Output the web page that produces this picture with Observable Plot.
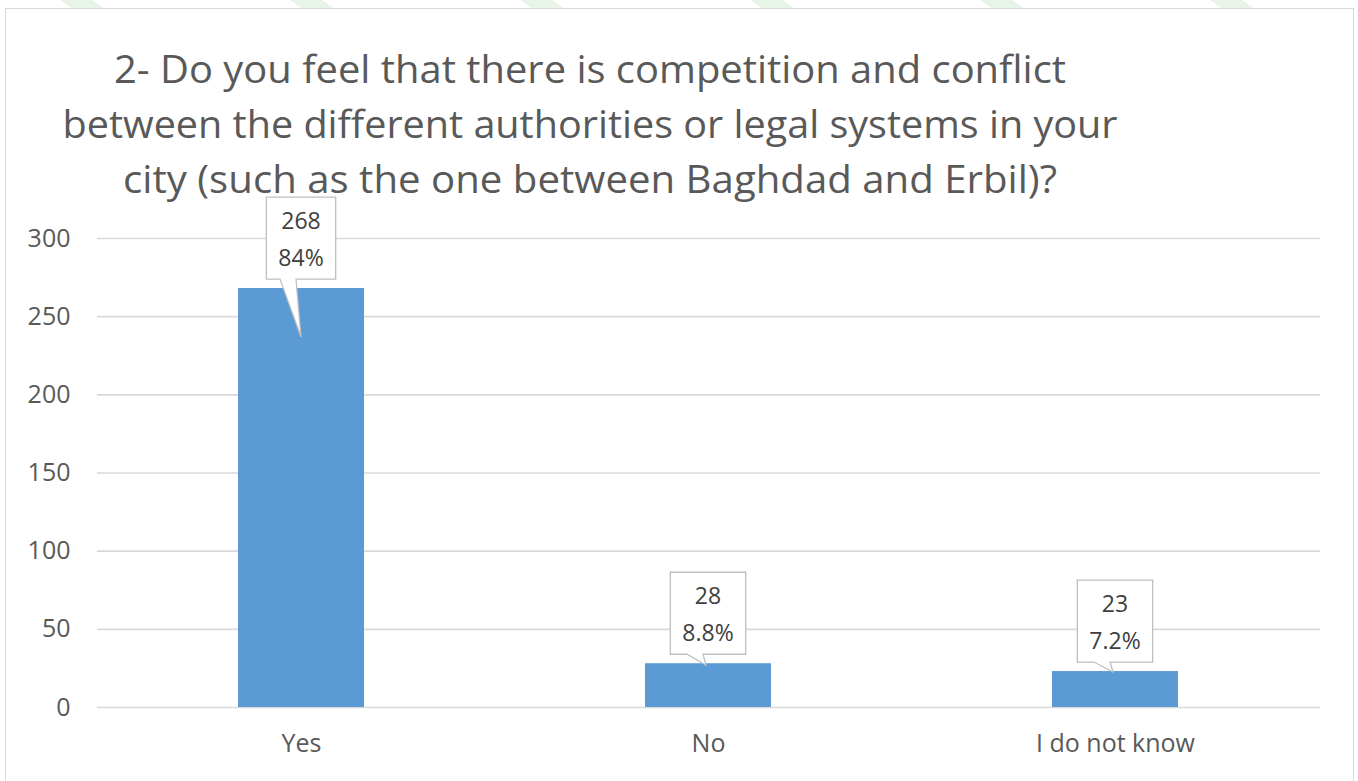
<!DOCTYPE html>
<html>
<head>
<meta charset="utf-8">
<script src="https://cdn.jsdelivr.net/npm/d3@7"></script>
<script src="https://cdn.jsdelivr.net/npm/@observablehq/plot@0.6"></script>
<style>
  html, body { margin: 0; padding: 0; background: #fff; overflow: hidden; }
  #wrap { position: relative; width: 1358px; height: 781px; overflow: hidden; font-family: "Open Sans", sans-serif; }
  #stripes { position: absolute; left: -40px; top: 0; width: 1440px; height: 8px; overflow: hidden;
    background: repeating-linear-gradient(to right, transparent 0 100px, #e8f4e8 100px 132px, transparent 132px 230px);
    transform: skewX(55deg); transform-origin: 0 0; }
  #frame { position: absolute; left: 5px; top: 8px; width: 1349px; height: 790px; border: 1.5px solid #d9d9d9; box-sizing: border-box; pointer-events: none; }
  #chart { position: absolute; left: 0; top: 0; }
  #title { position: absolute; left: 0; top: 0; pointer-events: none; }
</style>
</head>
<body>
<div id="wrap">
  <div id="stripes"></div>
  <div id="chart"></div>
  <div id="frame"></div>
  <svg id="title" width="1358" height="781"></svg>
</div>
<script>
// ---- data ----
const titleLines = [
  "2- Do you feel that there is competition and conflict",
  "between the different authorities or legal systems in your",
  "city (such as the one between Baghdad and Erbil)?"
];
const categories = ["Yes", "No", "I do not know"];
const counts = [268, 28, 23];
const percentLabels = ["84%", "8.8%", "7.2%"];
const yTicks = [0, 50, 100, 150, 200, 250, 300];

const rows = categories.map((c, i) => ({category: c, count: counts[i], pct: percentLabels[i]}));

const FONT = "Open Sans";
const textColor = "#595959";
const barColor = "#5B9BD5";

// text measurement helper
const ctx = document.createElement("canvas").getContext("2d");
function measure(text, size) {
  ctx.font = `${size}px "${FONT}"`;
  return ctx.measureText(text).width;
}

// callout mark (box with pointer) drawn from the scales
const tipDepth = {"Yes": 49, "No": 2, "I do not know": 1};
function callouts(index, scales) {
  const sx = scales.x, sy = scales.y;
  const bw = typeof sx.bandwidth === "function" ? sx.bandwidth() : sx.bandwidth;
  const g = d3.create("svg:g");
  rows.forEach(d => {
    const cx = sx(d.category) + bw / 2;
    const top = sy(d.count);
    const fs = 23;
    const w = Math.max(measure(String(d.count), fs), measure(d.pct, fs)) + 24;
    const h = 82;
    const bottom = top - 9;
    const bt = bottom - h;
    const left = cx - w / 2, right = cx + w / 2;
    const deep = tipDepth[d.category];
    const tipX = deep > 10 ? cx : cx - 2;
    const tipY = top + deep;
    const path = `M${left},${bt}H${right}V${bottom}H${cx - 5}L${tipX},${tipY}L${cx - 21},${bottom}H${left}Z`;
    g.append("path").attr("d", path).attr("fill", "#fff").attr("stroke", "#bfbfbf").attr("stroke-width", 1.3);
    g.append("text").attr("x", cx).attr("y", bt + 32).attr("text-anchor", "middle")
      .attr("font-size", fs).attr("fill", "#404040").text(String(d.count));
    g.append("text").attr("x", cx).attr("y", bt + 69).attr("text-anchor", "middle")
      .attr("font-size", fs).attr("fill", "#404040").text(d.pct);
  });
  return g.node();
}

const chart = Plot.plot({
  width: 1358,
  height: 781,
  marginTop: 238,
  marginBottom: 74,
  marginLeft: 97,
  marginRight: 38,
  style: {background: "transparent", fontFamily: FONT, fontSize: "25px", color: textColor, overflow: "visible"},
  x: {domain: categories, paddingInner: 0.69, paddingOuter: 0.345, label: null, tickSize: 0, tickPadding: 27},
  y: {domain: [0, 300], ticks: yTicks, label: null, tickSize: 0, tickPadding: 27},
  marks: [
    Plot.ruleY(yTicks, {stroke: "#d9d9d9", strokeWidth: 1.6}),
    Plot.barY(rows, {x: "category", y: "count", fill: barColor}),
    callouts
  ]
});
document.getElementById("chart").appendChild(chart);

// title
const tsvg = d3.select("#title");
const titleWidths = [952, 1055, 934];
const titleBaselines = [83, 138, 193];
titleLines.forEach((t, i) => {
  tsvg.append("text")
    .attr("x", 590).attr("y", titleBaselines[i])
    .attr("text-anchor", "middle")
    .attr("font-family", FONT)
    .attr("font-size", 38)
    .attr("fill", textColor)
    .attr("textLength", titleWidths[i])
    .attr("lengthAdjust", "spacingAndGlyphs")
    .text(t);
});
</script>
</body>
</html>
